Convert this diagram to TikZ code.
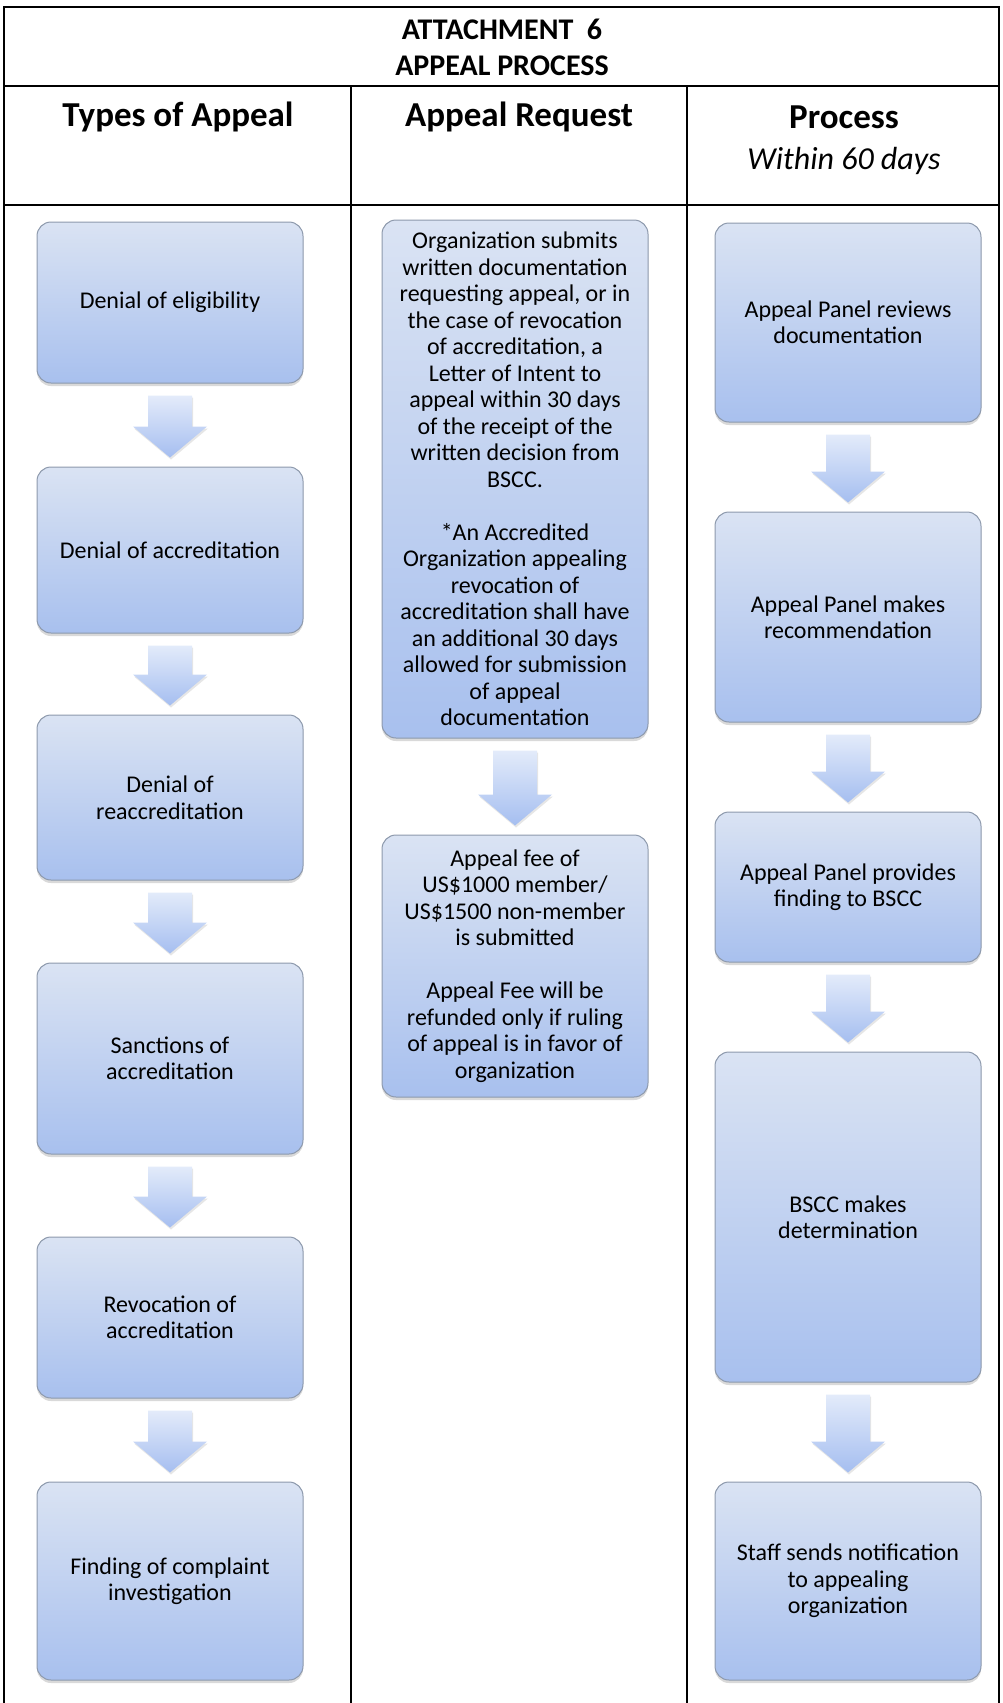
\documentclass[tikz,border=0pt]{standalone}
\usepackage{fontspec}
\setmainfont{Carlito}
\usepackage{tikz}
\usetikzlibrary{calc,shadows}
\definecolor{box-top}{HTML}{DAE3F3}
\definecolor{box-bottom}{HTML}{A8C0EE}
\definecolor{box-line}{HTML}{8D99AC}
\definecolor{arrow-top}{HTML}{E3EBFA}
\definecolor{arrow-bottom}{HTML}{A5BEF0}
\tikzset{
    table-line/.style = {line width=2pt, line cap=rect},
    flow-box/.style = {draw=box-line, line width=1pt, rounded corners=14pt, top color=box-top, bottom color=box-bottom, minimum width=266pt, align=center, inner sep=4pt, font=\fontsize{24}{26.5}\selectfont, drop shadow={opacity=0.3, shadow xshift=0pt, shadow yshift=-3pt}},
    flow-arrow/.style = {top color=arrow-top, bottom color=arrow-bottom, drop shadow={opacity=0.2, shadow xshift=1pt, shadow yshift=-2pt}},
    sheet-title/.style = {font=\fontsize{30}{36}\selectfont\bfseries, align=center},
    column-title/.style = {font=\fontsize{35}{40}\selectfont\bfseries},
}

\begin{document}
\begin{tikzpicture}[x=1pt, y=-1pt]
\useasboundingbox (0,0) rectangle (1003,1703);

% table
\draw[table-line] (4,1703) -- (4,7) -- (999,7) -- (999,1703);
\draw[table-line] (4,86) -- (999,86);
\draw[table-line] (4,205) -- (999,205);
\draw[table-line] (351,86) -- (351,1703);
\draw[table-line] (687,86) -- (687,1703);

\node[sheet-title] (title) at (502,47) {ATTACHMENT\ \ 6\\APPEAL PROCESS};
\node[column-title] (types) at (178,117) {Types of Appeal};
\node[column-title] (request) at (519,117) {Appeal Request};
\node[column-title] (process) at (844,117) {Process};
\node[font=\fontsize{32}{38}\selectfont\itshape] (within) at (844,161) {Within 60 days};

% types of appeal
\node[flow-box, minimum height=161pt] (e1) at (170,302.5) {Denial of eligibility};
\node[flow-box, minimum height=166pt] (e2) at (170,550) {Denial of accreditation};
\node[flow-box, minimum height=165pt] (e3) at (170,797.5) {Denial of\\reaccreditation};
\node[flow-box, minimum height=191pt] (e4) at (170,1058.5) {Sanctions of\\accreditation};
\node[flow-box, minimum height=161pt] (e5) at (170,1317.5) {Revocation of\\accreditation};
\node[flow-box, minimum height=198pt] (e6) at (170,1581) {Finding of complaint\\investigation};

% appeal request
\node[flow-box, minimum height=518pt] (m1) at (515,479) {Organization submits\\written documentation\\requesting appeal, or in\\the case of revocation\\of accreditation, a\\Letter of Intent to\\appeal within 30 days\\of the receipt of the\\written decision from\\BSCC.\\[26.5pt]{*}An Accredited\\Organization appealing\\revocation of\\accreditation shall have\\an additional 30 days\\allowed for submission\\of appeal\\documentation};
\node[flow-box, minimum height=262pt] (m2) at (515,966) {Appeal fee of\\US\$1000 member/\\US\$1500 non-member\\is submitted\\[26.5pt]Appeal Fee will be\\refunded only if ruling\\of appeal is in favor of\\organization};

% process
\node[flow-box, minimum height=199pt] (r1) at (848,322.5) {Appeal Panel reviews\\documentation};
\node[flow-box, minimum height=210pt] (r2) at (848,617) {Appeal Panel makes\\recommendation};
\node[flow-box, minimum height=150pt] (r3) at (848,887) {Appeal Panel provides\\finding to BSCC};
\node[flow-box, minimum height=330pt] (r4) at (848,1217) {BSCC makes\\determination};
\node[flow-box, minimum height=198pt] (r5) at (848,1581) {Staff sends notification\\to appealing\\organization};

% block arrows
\foreach \from/\to in {e1/e2, e2/e3, e3/e4, e4/e5, e5/e6, m1/m2, r1/r2, r2/r3, r3/r4, r4/r5}
    \path[flow-arrow] let \p1 = (\from.south), \p2 = (\to.north) in
        (\x1-22pt,\y1-12pt) -- (\x1+22pt,\y1-12pt) -- (\x1+22pt,\y2+40pt) -- (\x1+37pt,\y2+40pt)
        -- (\x1,\y2+9pt) -- (\x1-37pt,\y2+40pt) -- (\x1-22pt,\y2+40pt) -- cycle;
\end{tikzpicture}
\end{document}
